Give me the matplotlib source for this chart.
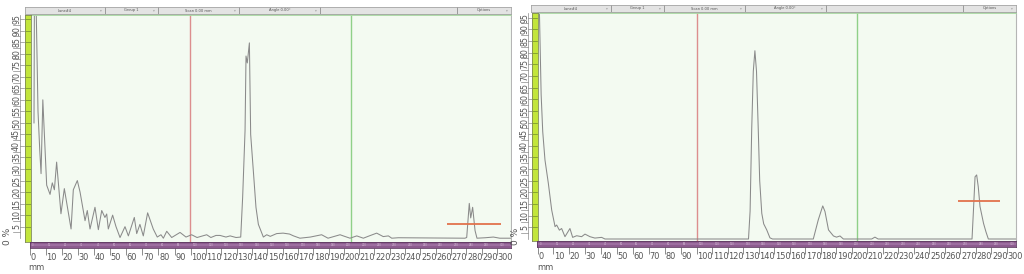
import numpy as np
import matplotlib
matplotlib.use('Agg')
import matplotlib.pyplot as plt
import matplotlib.transforms as mtransforms
from matplotlib import font_manager

W, H = 1024, 274

# scan 1 (left) - distance in mm, signal in %
left_mm = [2.8, 3.1, 3.9, 5.3, 6.4, 7.2, 8.3, 10.7, 12.8, 14.2, 15.5, 16.9, 19.6, 21.7,
           25.9, 27.3, 29.8, 31.5, 34.6, 36.0, 37.7, 40.8, 42.9, 45.0, 47.0, 48.1, 49.1,
           51.8, 53.9, 56.4, 59.5, 61.6, 65.3, 66.8, 68.8, 70.9, 73.6, 77.1, 79.6, 81.9,
           83.4, 85.5, 88.6, 93.8, 97.5, 101.0, 104.4, 110.4, 113.0, 116.2, 118.7, 122.4,
           125.0, 128.7, 131.6, 132.8, 134.3, 134.9, 135.7, 137.0, 137.8, 139.9, 141.1,
           142.6, 145.7, 147.8, 150.0, 154.0, 158.0, 162.0, 164.5, 168.5, 175.0, 182.0,
           186.0, 193.5, 195.5, 199.7, 203.9, 208.0, 211.7, 216.3, 220.4, 223.6, 225.7,
           229.8, 271.3, 272.4, 274.0, 274.9, 276.1, 277.6, 278.8, 284.0, 289.0, 293.0, 300.0]
left_pct = [50, 110, 110, 55, 38, 28, 60, 23, 19, 24, 21, 33, 10.6, 21.5,
            4, 21, 25, 20, 7.6, 12, 4, 13.4, 3.7, 12, 9, 10.5, 4,
            10, 5, 0.3, 5, 1, 9, 2, 6, 1, 11, 4, 0.5, 1.5,
            0, 3, 0.3, 2.5, 0.5, 1.5, 0.3, 1.5, 0.3, 1.2, 1.2, 0.5,
            1.0, 0.3, 0.5, 17.7, 46.7, 79, 76, 84.7, 45, 25, 13.4,
            6, 0.5, 1.5, 0.8, 2.0, 2.2, 1.8, 1.0, 0, 0.5, 1.5,
            0, 1.5, 1.0, 0, 1.0, 0, 1.0, 2.2, 0.7, 1.0, 0,
            0.2, 0, 0.3, 15.1, 8.8, 13.4, 3.3, 0, 0.2, 0.5, 0, 0]
left_marker_mm = [260.0, 294.0]
left_marker_pct = 6.3

# scan 2 (right)
right_mm = [0.5, 1.4, 2.4, 3.4, 4.8, 6.9, 9.0, 11.1, 12.1, 13.8, 15.2, 17.3, 20.4, 22.1,
            24.6, 27.7, 29.8, 32.9, 36.0, 40.2, 42.3, 132.0, 133.0, 134.0, 135.0, 136.0,
            137.0, 138.1, 139.0, 140.3, 141.5, 143.4, 145.4, 147.0, 172.5, 175.6, 178.4,
            179.8, 182.0, 185.1, 187.0, 189.2, 191.3, 209.0, 211.0, 213.0, 271.7, 272.5,
            273.6, 274.6, 275.6, 276.7, 278.9, 280.4, 281.9, 300.0]
right_pct = [115, 95, 62, 46, 33.9, 23.9, 12.4, 5.3, 6.0, 3.8, 4.5, 1.0, 4.5, 0.7,
             1.4, 1.0, 2.1, 1.0, 0.4, 0.7, 0, 0, 12, 47, 72, 80.8,
             72, 47, 25, 11, 6.5, 3.9, 0.5, 0, 0, 8.2, 14.2,
             11.8, 3.9, 1.3, 0.8, 1.3, 0, 0, 0.8, 0, 0, 11,
             26.7, 27.5, 22.4, 13.9, 6.7, 3.1, 0, 0]
right_marker_mm = [262.7, 289.2]
right_marker_pct = 16.3

x_ticks = list(range(0, 301, 10))
y_ticks = list(range(5, 100, 5))
header_labels = ['Lane#4', 'Group 1', 'Scan 0.00 mm', 'Angle 0.00\u00b0', '', 'Options']

names = {f.name for f in font_manager.fontManager.ttflist}
if 'Liberation Sans Narrow' in names:
    NARROW = dict(family='Liberation Sans Narrow')
else:
    NARROW = dict(family='DejaVu Sans', fontstretch='condensed')

fig = plt.figure(figsize=(W / 100, H / 100), dpi=100)
fig.patch.set_facecolor('white')


def box(l, t, r, b):
    # pixel box (from top-left) -> figure fraction rect
    return [l / W, 1 - b / H, (r - l) / W, (b - t) / H]


def panel(mm, pct, marker_mm, marker_pct, g):
    ylim = ((g['zy'] - g['pb']) / g['ppct'], (g['zy'] - g['pt']) / g['ppct'])

    # white backing so this panel covers whatever spills from the one on its left
    bg = fig.add_axes(box(g['ox'], 0, W, H))
    bg.set_facecolor('white')
    bg.set_xticks([])
    bg.set_yticks([])
    for s in bg.spines.values():
        s.set_visible(False)

    # main plot area
    ax = fig.add_axes(box(g['pl'], g['pt'], g['pr'], g['pb']))
    ax.set_facecolor('#f3faf1')
    ax.set_xlim((g['pl'] - g['zx']) / g['pmm'], (g['pr'] - g['zx']) / g['pmm'])
    ax.set_ylim(*ylim)
    ax.set_xticks([])
    ax.set_yticks([])
    for s in ['left', 'bottom']:
        ax.spines[s].set_visible(False)
    ax.spines['top'].set_color('#a9d8a3')
    ax.spines['top'].set_linewidth(1.3)
    ax.spines['right'].set_color('#b5b5b5')
    ax.spines['right'].set_linewidth(0.8)
    ax.axvline(100, color='#dc8e8e', lw=1.0)
    ax.axvline(200, color='#8fd088', lw=1.0)
    ax.plot(mm, pct, color='#8a8a8a', lw=0.75)
    ax.hlines(marker_pct, marker_mm[0], marker_mm[1], color='#e2724c', lw=1.3)

    # yellow strip
    ya = fig.add_axes(box(g['yl'], g['pt'], g['pl'], g['pb']))
    ya.set_facecolor('#c2e53c')
    ya.set_ylim(*ylim)
    ya.set_xticks([])
    ya.set_yticks([])
    for s in ya.spines.values():
        s.set_color('#7d8a55')
        s.set_linewidth(0.6)
    for v in y_ticks:
        ya.plot([0.35, 0.65], [v, v], color='#6f8a2a', lw=0.5)

    # percentage scale on the left
    la = fig.add_axes(box(g['ox'], g['pt'], g['yl'], g['pb']))
    la.set_xlim(g['ox'], g['yl'])
    la.set_ylim(*ylim)
    la.axis('off')
    for v in y_ticks:
        la.text(g['lx'], v, str(v), rotation=90, ha='center', va='center',
                fontsize=6.3, color='#555555', **NARROW)
        la.plot([g['lx'] - 4, g['lx'] + 3.5], [v - 2.5, v - 2.5], color='#8a8a8a', lw=0.5)
        la.plot([g['lx'] + 3.5, g['lx'] + 7.5], [v, v], color='#8a8a8a', lw=0.5)
    la.plot([g['lx'] + 3.5, g['lx'] + 3.5], [0, 97], color='#8a8a8a', lw=0.5)
    la.text(g['zl'], (g['zy'] - 236) / g['ppct'], '0 %', rotation=90, ha='center',
            va='center', fontsize=6.5, color='#555555')

    # purple mm ruler (its printed scale runs a little tighter past 100 mm)
    ra = fig.add_axes(box(g['zx'], g['pb'], g['pr'], g['rb']))
    ra.set_facecolor('#8c5a8e')
    ra.set_xlim(g['zx'], g['pr'])
    ra.set_ylim(0, 1)
    ra.set_yticks([])
    tick_px = np.interp(x_ticks, [0, 100, 300], g['rk'])
    ra.set_xticks(tick_px)
    ra.tick_params(axis='x', length=5.2, width=0.6, color='#7a7a7a', labelbottom=False)
    for s in ra.spines.values():
        s.set_color('#5e3a60')
        s.set_linewidth(0.6)
    ra.axhline(0.5, color='#9d6ea0', lw=1.6)
    tr = mtransforms.offset_copy(ra.get_xaxis_transform(), fig=fig, x=0.6, y=-10,
                                 units='dots')
    for v, p in zip(x_ticks, tick_px):
        ra.text(p + 2.4, 0.5, str(v), fontsize=1.8, color='#d8c0d8', ha='left',
                va='center')
        ra.text(p, 0, str(v), transform=tr, ha='left', va='center',
                fontsize=6.6, color='#555555', clip_on=False, **NARROW)
    fig.text(g['mmx'] / W, 1 - g['mmy'] / H, 'mm', fontsize=6, color='#555555',
             ha='center', va='center')

    # header bar
    ha = fig.add_axes(box(g['hl'], g['ht'], g['pr'], g['hb']))
    ha.set_facecolor('#e3e3e3')
    ha.set_xlim(0, g['pr'] - g['hl'])
    ha.set_ylim(0, 1)
    ha.set_xticks([])
    ha.set_yticks([])
    for s in ha.spines.values():
        s.set_color('#a5a5a5')
        s.set_linewidth(0.6)
    cuts = [0, 80, 133, 214, 295, 432, g['pr'] - g['hl']]
    for i, lab in enumerate(header_labels):
        if i > 0:
            ha.axvline(cuts[i], color='#8f8f8f', lw=0.6)
        ha.text((cuts[i] + cuts[i + 1]) / 2, 0.5, lab, fontsize=2.6, color='#555555',
                ha='center', va='center')
        if lab:
            ha.text(cuts[i + 1] - 4, 0.5, '\u25be', fontsize=2.6, color='#aaaaaa',
                    ha='center', va='center')


left_geom = dict(ox=0, zx=29.5, pmm=1.605, zy=238.2, ppct=2.306, pl=31, pr=511,
                 pt=15, pb=241.7, rb=248, yl=25, lx=16.5, zl=7, hl=25, ht=7, hb=14,
                 mmx=36.5, mmy=268, rk=[29.3, 190.5, 497.0])
right_geom = dict(ox=512, zx=537.3, pmm=1.6, zy=239, ppct=2.33, pl=537.5, pr=1016,
                  pt=12.7, pb=240.7, rb=246.7, yl=531.7, lx=524.5, zl=515.5, hl=530.7,
                  ht=5, hb=12, mmx=545, mmy=267, rk=[537.5, 696.5, 1007.0])

panel(left_mm, left_pct, left_marker_mm, left_marker_pct, left_geom)
panel(right_mm, right_pct, right_marker_mm, right_marker_pct, right_geom)

fig.savefig('out.png', dpi=100, facecolor='white')
